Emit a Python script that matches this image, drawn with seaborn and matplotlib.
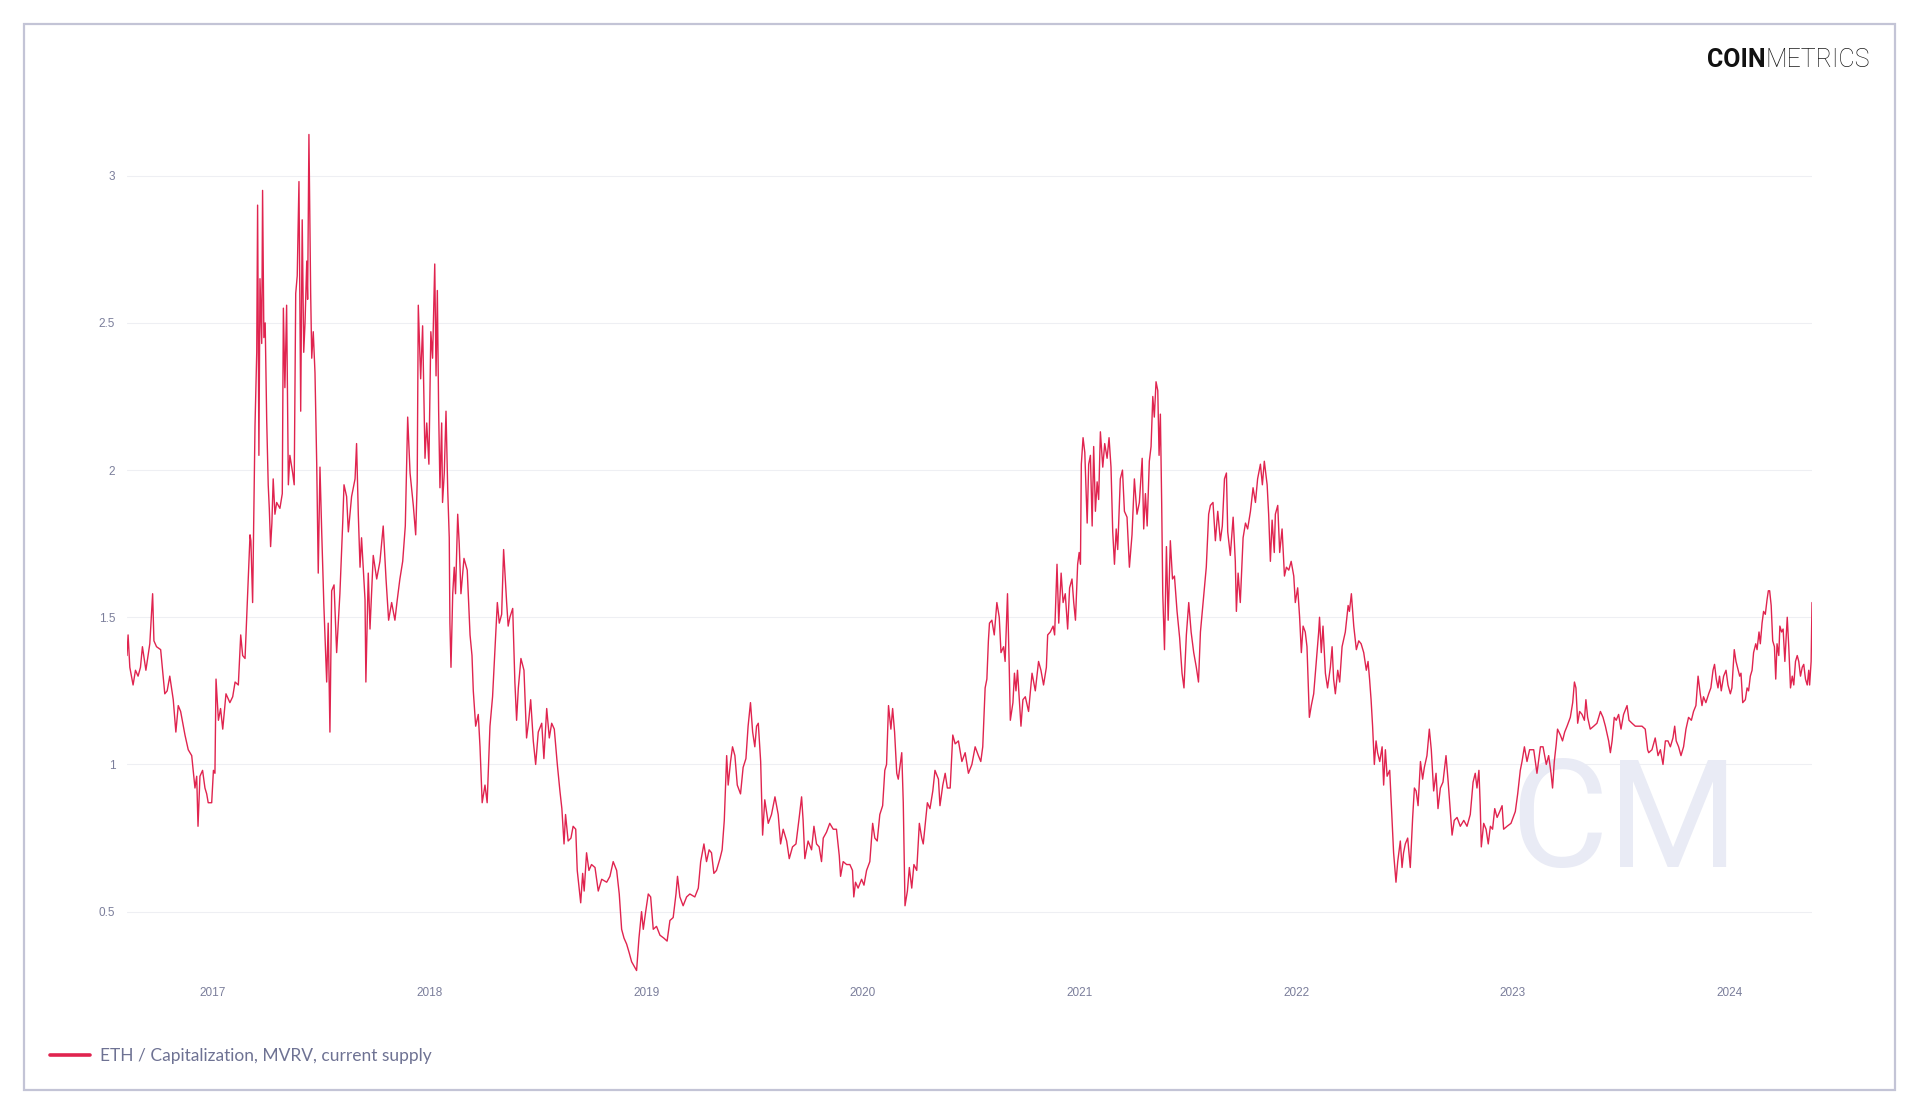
import pandas as pd
import seaborn as sns
import matplotlib.pyplot as plt
import matplotlib.dates as mdates
from matplotlib.lines import Line2D
from matplotlib.patches import Rectangle

# ETH MVRV (current supply); dates as decimal years
t_year = [
    # 2016-08 .. 2017-11
    2016.604, 2016.609, 2016.617, 2016.632, 2016.643, 2016.655, 2016.666, 2016.675, 2016.691, 2016.709,
    2016.722, 2016.728, 2016.740, 2016.759, 2016.778, 2016.789, 2016.801, 2016.817, 2016.829, 2016.840,
    2016.851, 2016.871, 2016.886, 2016.902, 2016.917, 2016.925, 2016.931, 2016.940, 2016.952, 2016.963,
    2016.971, 2016.978, 2016.994, 2017.002, 2017.009, 2017.014, 2017.025, 2017.035, 2017.045, 2017.060,
    2017.078, 2017.091, 2017.102, 2017.117, 2017.128, 2017.137, 2017.148, 2017.160, 2017.171, 2017.175,
    2017.183, 2017.194, 2017.202, 2017.206, 2017.212, 2017.217, 2017.225, 2017.229, 2017.235, 2017.241,
    2017.248, 2017.255, 2017.260, 2017.266, 2017.272, 2017.278, 2017.286, 2017.294, 2017.309, 2017.320,
    2017.325, 2017.332, 2017.340, 2017.348, 2017.355, 2017.368, 2017.375, 2017.382, 2017.389, 2017.397,
    2017.405, 2017.412, 2017.419, 2017.425, 2017.433, 2017.437, 2017.443, 2017.451, 2017.456, 2017.463,
    2017.471, 2017.479, 2017.486, 2017.494, 2017.502, 2017.512, 2017.525, 2017.532, 2017.540, 2017.548,
    2017.559, 2017.571, 2017.586, 2017.599, 2017.605, 2017.617, 2017.625, 2017.640, 2017.656, 2017.663,
    2017.671, 2017.679, 2017.686, 2017.702, 2017.706, 2017.717, 2017.725, 2017.740, 2017.756, 2017.771,
    2017.786, 2017.799, 2017.811, 2017.825, 2017.840, 2017.851, 2017.863, 2017.876, 2017.888, 2017.899,
    2017.910,
    # 2017-12 .. 2019-03
    2017.925, 2017.936, 2017.943, 2017.948, 2017.959, 2017.968, 2017.979, 2017.987, 2017.997, 2018.006,
    2018.014, 2018.024, 2018.030, 2018.036, 2018.042, 2018.048, 2018.056, 2018.060, 2018.068, 2018.076,
    2018.084, 2018.091, 2018.094, 2018.099, 2018.107, 2018.114, 2018.120, 2018.130, 2018.137, 2018.145,
    2018.159, 2018.174, 2018.187, 2018.196, 2018.202, 2018.213, 2018.225, 2018.233, 2018.243, 2018.256,
    2018.266, 2018.279, 2018.291, 2018.302, 2018.313, 2018.322, 2018.333, 2018.342, 2018.356, 2018.363,
    2018.371, 2018.384, 2018.394, 2018.402, 2018.410, 2018.422, 2018.436, 2018.448, 2018.458, 2018.467,
    2018.479, 2018.490, 2018.502, 2018.518, 2018.528, 2018.541, 2018.553, 2018.564, 2018.576, 2018.590,
    2018.602, 2018.611, 2018.621, 2018.628, 2018.640, 2018.653, 2018.663, 2018.675, 2018.682, 2018.698,
    2018.707, 2018.714, 2018.725, 2018.736, 2018.748, 2018.764, 2018.779, 2018.795, 2018.818, 2018.833,
    2018.848, 2018.864, 2018.876, 2018.887, 2018.898, 2018.910, 2018.922, 2018.933, 2018.948, 2018.956,
    2018.967, 2018.979, 2018.987, 2018.998, 2019.010, 2019.021, 2019.033, 2019.048, 2019.064, 2019.082,
    2019.097, 2019.110, 2019.125, 2019.138, 2019.145, 2019.156, 2019.171, 2019.187,
    # 2019-03 .. 2020-07
    2019.202, 2019.225, 2019.241, 2019.252, 2019.267, 2019.279, 2019.291, 2019.302, 2019.313, 2019.325,
    2019.341, 2019.351, 2019.361, 2019.372, 2019.379, 2019.390, 2019.399, 2019.410, 2019.421, 2019.436,
    2019.448, 2019.461, 2019.471, 2019.482, 2019.492, 2019.502, 2019.510, 2019.518, 2019.529, 2019.538,
    2019.548, 2019.564, 2019.579, 2019.595, 2019.610, 2019.621, 2019.633, 2019.649, 2019.661, 2019.676,
    2019.692, 2019.707, 2019.718, 2019.725, 2019.733, 2019.748, 2019.764, 2019.775, 2019.787, 2019.799,
    2019.810, 2019.818, 2019.833, 2019.848, 2019.864, 2019.879, 2019.892, 2019.898, 2019.910, 2019.926,
    2019.941, 2019.953, 2019.959, 2019.967, 2019.979, 2019.995, 2020.006, 2020.018, 2020.033, 2020.046,
    2020.056, 2020.067, 2020.079, 2020.092, 2020.102, 2020.110, 2020.119, 2020.130, 2020.138, 2020.147,
    2020.157, 2020.164, 2020.180, 2020.187, 2020.195, 2020.206, 2020.215, 2020.226, 2020.236, 2020.249,
    2020.261, 2020.272, 2020.279, 2020.298, 2020.310, 2020.323, 2020.333, 2020.349, 2020.356, 2020.369,
    2020.380, 2020.390, 2020.403, 2020.415, 2020.426, 2020.441, 2020.457, 2020.472, 2020.487, 2020.503,
    2020.518, 2020.533,
    # 2020-07 .. 2021-10
    2020.544, 2020.553, 2020.564, 2020.572, 2020.579, 2020.584, 2020.595, 2020.606, 2020.618, 2020.629,
    2020.637, 2020.649, 2020.656, 2020.667, 2020.675, 2020.680, 2020.692, 2020.699, 2020.706, 2020.713,
    2020.729, 2020.738, 2020.749, 2020.764, 2020.780, 2020.795, 2020.810, 2020.821, 2020.833, 2020.846,
    2020.852, 2020.864, 2020.877, 2020.884, 2020.895, 2020.903, 2020.914, 2020.923, 2020.933, 2020.944,
    2020.953, 2020.964, 2020.972, 2020.980, 2020.990, 2020.997, 2021.003, 2021.007, 2021.015, 2021.023,
    2021.034, 2021.041, 2021.049, 2021.057, 2021.064, 2021.072, 2021.080, 2021.087, 2021.095, 2021.106,
    2021.115, 2021.126, 2021.135, 2021.144, 2021.152, 2021.160, 2021.168, 2021.175, 2021.187, 2021.197,
    2021.206, 2021.218, 2021.229, 2021.241, 2021.252, 2021.264, 2021.275, 2021.288, 2021.295, 2021.303,
    2021.311, 2021.321, 2021.329, 2021.337, 2021.344, 2021.352, 2021.360, 2021.366, 2021.372, 2021.378,
    2021.383, 2021.391, 2021.400, 2021.408, 2021.418, 2021.428, 2021.437, 2021.449, 2021.461, 2021.472,
    2021.481, 2021.492, 2021.503, 2021.514, 2021.526, 2021.538, 2021.548, 2021.557, 2021.572, 2021.584,
    2021.595, 2021.603, 2021.615, 2021.626, 2021.637, 2021.649, 2021.658, 2021.668, 2021.677, 2021.683,
    2021.695, 2021.708, 2021.718, 2021.723, 2021.731, 2021.741, 2021.754, 2021.765, 2021.775, 2021.788,
    # 2021-10 .. 2023-02
    2021.800, 2021.811, 2021.821, 2021.834, 2021.843, 2021.852, 2021.865, 2021.872, 2021.880, 2021.888,
    2021.898, 2021.903, 2021.914, 2021.923, 2021.934, 2021.945, 2021.954, 2021.965, 2021.976, 2021.988,
    2021.995, 2022.006, 2022.015, 2022.023, 2022.031, 2022.041, 2022.049, 2022.060, 2022.069, 2022.080,
    2022.091, 2022.103, 2022.107, 2022.115, 2022.123, 2022.134, 2022.144, 2022.157, 2022.165, 2022.172,
    2022.180, 2022.191, 2022.200, 2022.211, 2022.226, 2022.239, 2022.245, 2022.254, 2022.265, 2022.277,
    2022.288, 2022.299, 2022.311, 2022.323, 2022.331, 2022.338, 2022.345, 2022.352, 2022.360, 2022.368,
    2022.375, 2022.385, 2022.396, 2022.403, 2022.411, 2022.419, 2022.431, 2022.442, 2022.449, 2022.460,
    2022.468, 2022.480, 2022.488, 2022.495, 2022.503, 2022.514, 2022.526, 2022.537, 2022.545, 2022.553,
    2022.562, 2022.573, 2022.583, 2022.591, 2022.603, 2022.614, 2022.623, 2022.634, 2022.645, 2022.654,
    2022.665, 2022.677, 2022.691, 2022.700, 2022.708, 2022.719, 2022.729, 2022.742, 2022.757, 2022.773,
    2022.788, 2022.803, 2022.816, 2022.826, 2022.834, 2022.843, 2022.849, 2022.854, 2022.865, 2022.876,
    2022.886, 2022.896, 2022.906, 2022.916, 2022.927, 2022.939, 2022.950, 2022.957, 2022.973, 2022.991,
    2023.011, 2023.022, 2023.034, 2023.042, 2023.053, 2023.065, 2023.077,
    # 2023-02 .. 2024-05
    2023.096, 2023.111, 2023.127, 2023.139, 2023.154, 2023.165, 2023.176, 2023.183, 2023.191, 2023.200,
    2023.206, 2023.219, 2023.229, 2023.239, 2023.250, 2023.265, 2023.276, 2023.284, 2023.291, 2023.299,
    2023.308, 2023.319, 2023.330, 2023.337, 2023.345, 2023.357, 2023.373, 2023.388, 2023.404, 2023.416,
    2023.427, 2023.442, 2023.450, 2023.458, 2023.468, 2023.477, 2023.488, 2023.499, 2023.511, 2023.527,
    2023.536, 2023.550, 2023.565, 2023.580, 2023.596, 2023.611, 2023.622, 2023.627, 2023.642, 2023.657,
    2023.670, 2023.681, 2023.693, 2023.704, 2023.716, 2023.727, 2023.739, 2023.747, 2023.754, 2023.765,
    2023.776, 2023.788, 2023.799, 2023.811, 2023.824, 2023.834, 2023.845, 2023.855, 2023.865, 2023.873,
    2023.880, 2023.891, 2023.904, 2023.914, 2023.924, 2023.931, 2023.939, 2023.947, 2023.954, 2023.962,
    2023.973, 2023.984, 2023.993, 2024.004, 2024.011, 2024.022, 2024.030, 2024.037, 2024.047, 2024.053,
    2024.061, 2024.073, 2024.081, 2024.088, 2024.096, 2024.104, 2024.111, 2024.121, 2024.127, 2024.136,
    2024.142, 2024.150, 2024.157, 2024.165, 2024.173, 2024.179, 2024.185, 2024.192, 2024.199, 2024.207,
    2024.213, 2024.219, 2024.227, 2024.232, 2024.240, 2024.247, 2024.255, 2024.261, 2024.266, 2024.273,
    2024.281, 2024.289, 2024.296, 2024.304, 2024.312, 2024.319, 2024.327, 2024.335, 2024.342, 2024.350,
    2024.358, 2024.365, 2024.369, 2024.376, 2024.380,
]

mvrv = [
    # 2016-08 .. 2017-11
    1.37, 1.44, 1.33, 1.27, 1.32, 1.30, 1.33, 1.40, 1.32, 1.41,
    1.58, 1.42, 1.40, 1.39, 1.24, 1.25, 1.30, 1.22, 1.11, 1.20,
    1.18, 1.10, 1.05, 1.03, 0.92, 0.96, 0.79, 0.96, 0.98, 0.92,
    0.90, 0.87, 0.87, 0.98, 0.97, 1.29, 1.15, 1.19, 1.12, 1.24,
    1.21, 1.23, 1.28, 1.27, 1.44, 1.37, 1.36, 1.58, 1.78, 1.76,
    1.55, 2.15, 2.40, 2.90, 2.05, 2.65, 2.43, 2.95, 2.45, 2.50,
    2.17, 1.95, 1.87, 1.74, 1.82, 1.97, 1.85, 1.89, 1.87, 1.92,
    2.55, 2.28, 2.56, 1.95, 2.05, 1.99, 1.95, 2.60, 2.66, 2.98,
    2.20, 2.85, 2.40, 2.50, 2.71, 2.58, 3.14, 2.60, 2.38, 2.47,
    2.33, 2.02, 1.65, 2.01, 1.79, 1.54, 1.28, 1.48, 1.11, 1.59,
    1.61, 1.38, 1.58, 1.82, 1.95, 1.91, 1.79, 1.91, 1.97, 2.09,
    1.85, 1.67, 1.77, 1.56, 1.28, 1.65, 1.46, 1.71, 1.63, 1.69,
    1.81, 1.63, 1.49, 1.55, 1.49, 1.56, 1.63, 1.69, 1.81, 2.18,
    1.99,
    # 2017-12 .. 2019-03
    1.88, 1.78, 1.96, 2.56, 2.31, 2.49, 2.04, 2.16, 2.02, 2.47,
    2.38, 2.70, 2.32, 2.61, 2.20, 1.94, 2.16, 1.89, 1.99, 2.20,
    1.93, 1.77, 1.48, 1.33, 1.58, 1.67, 1.58, 1.85, 1.75, 1.58,
    1.70, 1.66, 1.44, 1.37, 1.25, 1.13, 1.17, 1.06, 0.87, 0.93,
    0.87, 1.13, 1.23, 1.39, 1.55, 1.48, 1.51, 1.73, 1.55, 1.47,
    1.50, 1.53, 1.28, 1.15, 1.26, 1.36, 1.32, 1.09, 1.15, 1.22,
    1.08, 1.00, 1.11, 1.14, 1.02, 1.19, 1.09, 1.14, 1.12, 1.00,
    0.91, 0.85, 0.73, 0.83, 0.74, 0.75, 0.79, 0.78, 0.64, 0.53,
    0.63, 0.57, 0.70, 0.64, 0.66, 0.65, 0.57, 0.61, 0.60, 0.62,
    0.67, 0.64, 0.56, 0.44, 0.41, 0.39, 0.36, 0.33, 0.31, 0.30,
    0.41, 0.50, 0.44, 0.50, 0.56, 0.55, 0.44, 0.45, 0.42, 0.41,
    0.40, 0.47, 0.48, 0.56, 0.62, 0.55, 0.52, 0.55,
    # 2019-03 .. 2020-07
    0.56, 0.55, 0.58, 0.67, 0.73, 0.67, 0.71, 0.70, 0.63, 0.64,
    0.68, 0.71, 0.81, 1.03, 0.93, 1.01, 1.06, 1.03, 0.93, 0.90,
    0.99, 1.02, 1.13, 1.21, 1.11, 1.06, 1.13, 1.14, 1.01, 0.76,
    0.88, 0.80, 0.83, 0.89, 0.83, 0.73, 0.78, 0.74, 0.68, 0.72,
    0.73, 0.82, 0.89, 0.81, 0.68, 0.74, 0.71, 0.79, 0.73, 0.72,
    0.67, 0.75, 0.77, 0.80, 0.78, 0.78, 0.69, 0.62, 0.67, 0.66,
    0.66, 0.64, 0.55, 0.60, 0.58, 0.61, 0.59, 0.64, 0.67, 0.80,
    0.75, 0.74, 0.83, 0.86, 0.98, 1.00, 1.20, 1.12, 1.19, 1.11,
    0.97, 0.95, 1.04, 0.87, 0.52, 0.57, 0.65, 0.58, 0.66, 0.64,
    0.80, 0.75, 0.73, 0.87, 0.85, 0.91, 0.98, 0.95, 0.86, 0.93,
    0.97, 0.92, 0.92, 1.10, 1.07, 1.08, 1.01, 1.04, 0.97, 1.00,
    1.06, 1.03,
    # 2020-07 .. 2021-10
    1.01, 1.06, 1.26, 1.29, 1.42, 1.48, 1.49, 1.44, 1.55, 1.50,
    1.38, 1.40, 1.35, 1.58, 1.33, 1.15, 1.21, 1.31, 1.25, 1.32,
    1.13, 1.22, 1.23, 1.18, 1.31, 1.25, 1.35, 1.32, 1.27, 1.33,
    1.44, 1.45, 1.47, 1.44, 1.68, 1.48, 1.65, 1.55, 1.58, 1.46,
    1.60, 1.63, 1.55, 1.49, 1.68, 1.72, 1.68, 2.02, 2.11, 2.06,
    1.82, 2.02, 2.05, 1.81, 2.08, 1.86, 1.96, 1.90, 2.13, 2.01,
    2.09, 2.04, 2.11, 2.01, 1.79, 1.68, 1.80, 1.73, 1.97, 2.00,
    1.86, 1.84, 1.67, 1.78, 1.97, 1.85, 1.89, 2.04, 1.80, 1.92,
    1.81, 2.03, 2.08, 2.25, 2.18, 2.30, 2.27, 2.05, 2.19, 1.89,
    1.58, 1.39, 1.74, 1.49, 1.76, 1.63, 1.64, 1.52, 1.43, 1.31,
    1.26, 1.44, 1.55, 1.45, 1.38, 1.33, 1.28, 1.45, 1.57, 1.67,
    1.85, 1.88, 1.89, 1.76, 1.86, 1.76, 1.81, 1.97, 1.99, 1.79,
    1.71, 1.84, 1.69, 1.52, 1.65, 1.55, 1.77, 1.82, 1.80, 1.86,
    # 2021-10 .. 2023-02
    1.94, 1.89, 1.97, 2.02, 1.95, 2.03, 1.95, 1.85, 1.69, 1.83,
    1.72, 1.85, 1.88, 1.72, 1.80, 1.64, 1.67, 1.66, 1.69, 1.64,
    1.55, 1.60, 1.50, 1.38, 1.47, 1.45, 1.40, 1.16, 1.20, 1.24,
    1.34, 1.45, 1.50, 1.38, 1.47, 1.31, 1.26, 1.33, 1.40, 1.29,
    1.24, 1.32, 1.28, 1.40, 1.45, 1.54, 1.52, 1.58, 1.47, 1.39,
    1.42, 1.41, 1.38, 1.32, 1.35, 1.29, 1.22, 1.13, 1.00, 1.08,
    1.04, 1.01, 1.06, 0.93, 1.05, 0.96, 0.98, 0.81, 0.70, 0.60,
    0.67, 0.74, 0.65, 0.70, 0.73, 0.75, 0.65, 0.82, 0.92, 0.91,
    0.86, 1.01, 0.95, 0.99, 1.03, 1.12, 1.05, 0.91, 0.97, 0.85,
    0.92, 0.94, 1.03, 0.95, 0.87, 0.76, 0.81, 0.82, 0.79, 0.81,
    0.79, 0.83, 0.94, 0.97, 0.92, 0.98, 0.86, 0.72, 0.80, 0.78,
    0.73, 0.79, 0.78, 0.85, 0.82, 0.84, 0.86, 0.78, 0.79, 0.80,
    0.84, 0.90, 0.98, 1.01, 1.06, 1.01, 1.05,
    # 2023-02 .. 2024-05
    1.05, 0.97, 1.06, 1.06, 1.00, 1.03, 0.97, 0.92, 1.01, 1.07,
    1.12, 1.10, 1.08, 1.11, 1.13, 1.16, 1.21, 1.28, 1.26, 1.14,
    1.18, 1.17, 1.15, 1.22, 1.16, 1.12, 1.13, 1.14, 1.18, 1.16,
    1.13, 1.08, 1.04, 1.08, 1.16, 1.15, 1.17, 1.12, 1.17, 1.20,
    1.15, 1.14, 1.13, 1.13, 1.13, 1.12, 1.05, 1.04, 1.05, 1.09,
    1.03, 1.05, 1.00, 1.08, 1.08, 1.06, 1.09, 1.13, 1.08, 1.06,
    1.03, 1.06, 1.12, 1.16, 1.15, 1.18, 1.20, 1.30, 1.24, 1.20,
    1.23, 1.21, 1.24, 1.26, 1.32, 1.34, 1.29, 1.26, 1.30, 1.25,
    1.30, 1.32, 1.27, 1.24, 1.26, 1.39, 1.35, 1.33, 1.30, 1.31,
    1.21, 1.22, 1.26, 1.25, 1.30, 1.32, 1.38, 1.41, 1.39, 1.45,
    1.41, 1.48, 1.52, 1.51, 1.56, 1.59, 1.59, 1.54, 1.42, 1.40,
    1.29, 1.41, 1.37, 1.47, 1.45, 1.46, 1.35, 1.43, 1.50, 1.40,
    1.26, 1.30, 1.27, 1.35, 1.37, 1.35, 1.30, 1.33, 1.34, 1.29,
    1.27, 1.32, 1.27, 1.35, 1.55,
]

y_ticks = [0.5, 1, 1.5, 2, 2.5, 3]
y_tick_labels = ["0.5", "1", "1.5", "2", "2.5", "3"]
series_label = "ETH / Capitalization, MVRV, current supply"

LINE = "#e0244f"
TICK = "#7b7e9b"
FRAME = "#c3c4d6"
W, H = 1920, 1115


def year_to_date(y):
    yr = int(y)
    start = pd.Timestamp(year=yr, month=1, day=1)
    end = pd.Timestamp(year=yr + 1, month=1, day=1)
    return start + (end - start) * (y - yr)


df = pd.DataFrame({"date": [year_to_date(y) for y in t_year], "mvrv": mvrv})

sns.set_theme(style="white")
plt.rcParams["font.family"] = ["Liberation Sans", "DejaVu Sans"]

fig = plt.figure(figsize=(W / 100, H / 100), dpi=100)
fig.patch.set_facecolor("white")

# plot area in pixels of the reference
left, right, top, bottom = 127, 1812, 133, 972
ax = fig.add_axes([left / W, 1 - bottom / H, (right - left) / W, (bottom - top) / H])
ax.set_facecolor("none")

sns.lineplot(data=df, x="date", y="mvrv", ax=ax, color=LINE, linewidth=1.0,
             estimator=None, legend=False, zorder=3)

ax.set_xlim(df["date"].min(), df["date"].max())
ax.set_ylim(0.295, 3.145)
ax.set_yticks(y_ticks)
ax.set_yticklabels(y_tick_labels)
ax.xaxis.set_major_locator(mdates.YearLocator())
ax.xaxis.set_major_formatter(mdates.DateFormatter("%Y"))
ax.tick_params(axis="both", length=0, labelsize=8.5, labelcolor=TICK)
ax.tick_params(axis="x", pad=11)
ax.tick_params(axis="y", pad=8.5)
ax.set_xlabel("")
ax.set_ylabel("")
ax.grid(axis="y", color="#eeeff3", linewidth=0.8)
ax.grid(axis="x", visible=False)
ax.set_axisbelow(True)
sns.despine(ax=ax, left=True, bottom=True)

# watermark behind the line
ax.text(1625 / W, 1 - 826 / H, "CM", transform=fig.transFigure, color="#e9ebf5",
        fontsize=108, fontweight="normal", family=["Roboto", "DejaVu Sans"],
        va="center", ha="center", zorder=1)

# outer frame
fig.patches.append(Rectangle((24 / W, 1 - 1090 / H), (1895 - 24) / W, (1090 - 24) / H,
                             transform=fig.transFigure, fill=False, edgecolor=FRAME,
                             linewidth=1.6))

# logo
fig.canvas.draw()
logo_y = 1 - 60 / H
t2 = fig.text(1870 / W, logo_y, "METRICS", ha="right", va="center", fontsize=18,
              fontweight="light", color="#1a1a1a", family=["Roboto", "DejaVu Sans"])
renderer = fig.canvas.get_renderer()
bb = t2.get_window_extent(renderer=renderer)
fig.text(bb.x0 / W, logo_y, "COIN", ha="right", va="center", fontsize=18,
         fontweight="bold", color="#111111", family=["Roboto", "DejaVu Sans"])

# legend
handle = Line2D([], [], color=LINE, linewidth=2.6)
fig.legend([handle], [series_label], loc="center left",
           bbox_to_anchor=(50 / W, 1 - 1056 / H), frameon=False,
           handlelength=2.3, handletextpad=0.6, borderpad=0, borderaxespad=0,
           labelcolor="#6e7293", prop={"family": ["Lato", "DejaVu Sans"], "size": 12.5})

fig.savefig("out.png", dpi=100, facecolor="white")
